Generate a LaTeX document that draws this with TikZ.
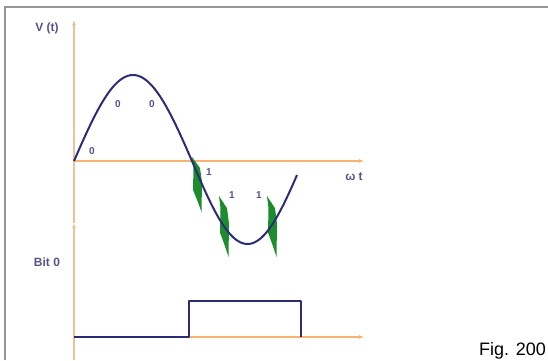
\documentclass[tikz,border=0pt]{standalone}
\usepackage{fontspec}
\setmainfont{Liberation Sans}
\usetikzlibrary{arrows.meta}
\definecolor{axisor}{RGB}{246,178,112}
\definecolor{axistan}{RGB}{232,196,150}
\definecolor{wavebl}{RGB}{44,44,118}
\definecolor{lblbl}{RGB}{84,84,140}
\definecolor{markgr}{RGB}{28,140,44}
\definecolor{framegr}{RGB}{150,150,150}
% green phase-change mark: #1,#2 top left corner, #3 height
\newcommand{\greenmark}[3]{%
  \fill[markgr] (#1,#2) -- ++(8,0.2*#3) -- ++(2,0.25*#3) -- ++(-0.5,0.55*#3)
    -- ++(-4,-0.2*#3) -- ++(-4.5,-0.2*#3) -- ++(0.5,-0.4*#3) -- cycle;}
\begin{document}
\begin{tikzpicture}[x=1pt,y=-1pt, >={Latex[length=5pt,width=4pt]}]
\tikzset{axis/.style={draw=axisor,line width=1.4pt},
  vaxis/.style={draw=axistan,line width=1.4pt},
  wave/.style={draw=wavebl,line width=2pt,line join=round},
  lbl/.style={text=lblbl,font=\fontsize{12}{12}\selectfont\bfseries,inner sep=0pt},
  bitlbl/.style={text=lblbl,font=\fontsize{10}{10}\selectfont\bfseries,inner sep=0pt}}
\useasboundingbox (0,0) rectangle (548,360);
% frame
\draw[framegr,line width=1.5pt] (5,360) -- (5,7) -- (548,7);
% axes
\coordinate (vtop) at (74,20);
\coordinate (vmid) at (74,223);
\coordinate (vbot) at (74,360);
\coordinate (o) at (74,161);
\coordinate (xend) at (364,161);
\coordinate (o2) at (74,337);
\coordinate (xend2) at (364,337);
\draw[vaxis,->] (vbot) -- (vmid);
\draw[vaxis,->] (vmid) -- (vtop);
\draw[axis,->] (o) -- (xend);
\draw[axis,->] (o2) -- (xend2);
% phase marks
\greenmark{192}{157}{55}
\greenmark{219}{196}{61}
\greenmark{267}{196}{61}
% carrier
\draw[wave] plot[domain=74:192,samples=60,smooth] (\x,{161-86*sin((\x-74)/118*180)})
  -- plot[domain=192:297,samples=60,smooth] (\x,{161+83*sin((\x-192)/111*180)});
% bit stream
\coordinate (rise) at (189,337);
\coordinate (fall) at (301,337);
\draw[wave,line width=2.4pt] (o2) -- (rise) -- (189,301) -- (301,301) -- (fall);
% labels
\node[lbl] (vt) at (47,28) {V (t)};
\node[lbl] (wt) at (354,177) {ω t};
\node[lbl] (bit) at (47,262) {Bit 0};
\node[bitlbl] (b1) at (92,151) {0};
\node[bitlbl] (b2) at (118,104) {0};
\node[bitlbl] (b3) at (152,104) {0};
\node[bitlbl] (b4) at (209,172) {1};
\node[bitlbl] (b5) at (232,195) {1};
\node[bitlbl] (b6) at (259,195) {1};
\node[font=\fontsize{18}{18}\selectfont,anchor=base east,inner sep=0pt] (fig) at (546,355) {Fig. 200};
\end{tikzpicture}
\end{document}
